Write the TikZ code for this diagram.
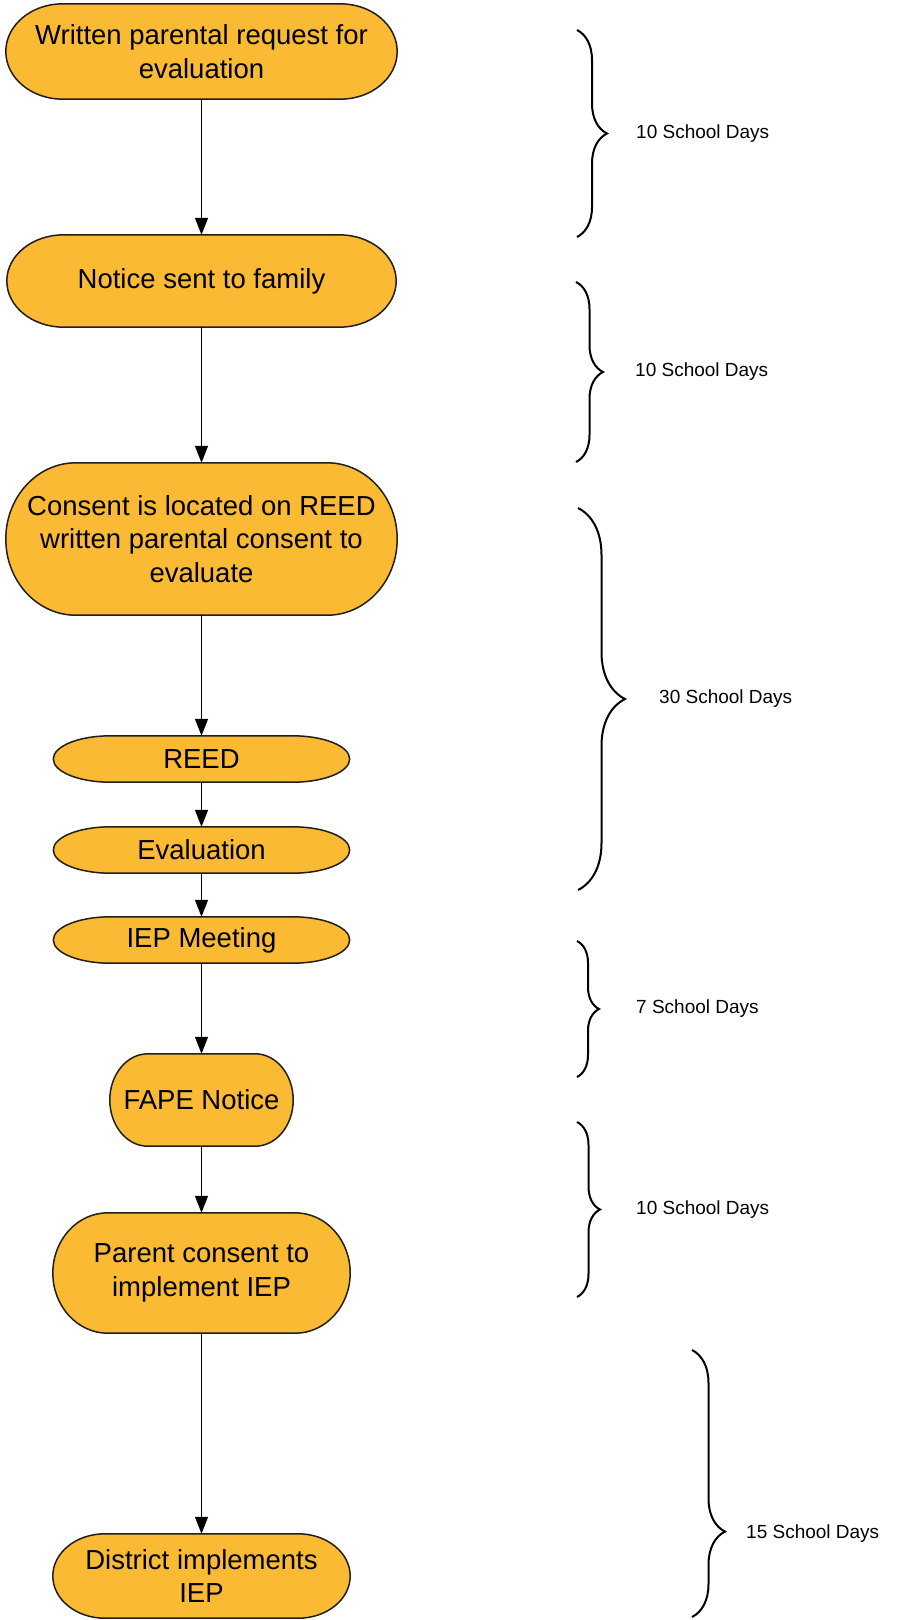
\documentclass[tikz,border=0pt]{standalone}
\usepackage{fontspec}
\setmainfont{Liberation Sans}
\usetikzlibrary{arrows.meta,decorations.pathreplacing,backgrounds,calc}

\definecolor{stepfill}{RGB}{250,186,52}
\definecolor{stepline}{RGB}{34,30,25}

\tikzset{
	stepnode/.style={inner sep=0pt, align=center, font=\fontsize{27.5}{33.5}\selectfont},
	stepshape/.style={fill=stepfill, draw=stepline, line width=1.5pt},
	conn/.style={-{Triangle[width=13pt,length=17pt]}, line width=1.5pt},
	daybrace/.style={decorate, decoration={brace,amplitude=#1}, line width=2pt},
	daylabel/.style={anchor=west, inner sep=0pt, font=\fontsize{19}{23}\selectfont}
}

\begin{document}
\begin{tikzpicture}[x=1pt,y=1pt]

	\useasboundingbox (0,0) rectangle (907,-1620);

	% steps
	\node[stepnode, minimum width=391pt, minimum height=95pt] (req) at (201.5,-51.5) {Written parental request for\\evaluation};
	\node[stepnode, minimum width=389pt, minimum height=92pt] (notice) at (201.5,-281) {Notice sent to family};
	\node[stepnode, minimum width=391pt, minimum height=152pt] (consent) at (201.5,-539) {Consent is located on REED\\written parental consent to\\evaluate};
	\node[stepnode, minimum width=296pt, minimum height=46pt] (reed) at (201.5,-759) {REED};
	\node[stepnode, minimum width=296pt, minimum height=46pt] (eval) at (201.5,-850) {Evaluation};
	\node[stepnode, minimum width=296pt, minimum height=46pt] (iep) at (201.5,-940) {IEP Meeting};
	\node[stepnode, minimum width=183pt, minimum height=92pt] (fape) at (201.5,-1100) {FAPE Notice};
	\node[stepnode, minimum width=297pt, minimum height=120pt] (parent) at (201.5,-1273) {Parent consent to\\implement IEP};
	\node[stepnode, minimum width=297pt, minimum height=84pt] (district) at (201.5,-1576) {District implements\\IEP};

	% outlines with elliptical ends
	\begin{scope}[on background layer]
		\foreach \nd/\rx in {req/57,notice/57,consent/70,reed/57,eval/57,iep/57,fape/38,parent/55,district/52}{
			\path[stepshape] let \p1=(\nd.north), \p2=(\nd.south), \n1={(\y1-\y2)/2} in
				([xshift=\rx pt]\nd.north west) -- ([xshift=-\rx pt]\nd.north east)
				arc[start angle=90, end angle=-90, x radius=\rx pt, y radius=\n1]
				-- ([xshift=\rx pt]\nd.south west)
				arc[start angle=270, end angle=90, x radius=\rx pt, y radius=\n1] -- cycle;
		}
	\end{scope}

	\draw[conn] (req) -- (notice);
	\draw[conn] (notice) -- (consent);
	\draw[conn] (consent) -- (reed);
	\draw[conn] (reed) -- (eval);
	\draw[conn] (eval) -- (iep);
	\draw[conn] (iep) -- (fape);
	\draw[conn] (fape) -- (parent);
	\draw[conn] (parent) -- (district);

	% time spans
	\coordinate (b1t) at (577,-30);
	\coordinate (b1b) at (577,-237);
	\coordinate (b2t) at (576,-282);
	\coordinate (b2b) at (576,-462);
	\coordinate (b3t) at (578,-508);
	\coordinate (b3b) at (578,-890);
	\coordinate (b4t) at (577,-941);
	\coordinate (b4b) at (577,-1077);
	\coordinate (b5t) at (577,-1122);
	\coordinate (b5b) at (577,-1297);
	\coordinate (b6t) at (692,-1350);
	\coordinate (b6b) at (692,-1617);

	\draw[daybrace=30pt] (b1t) -- (b1b);
		\node[daylabel] (days1) at (636,-133.5) {10 School Days};
	\draw[daybrace=27pt] (b2t) -- (b2b);
		\node[daylabel] (days2) at (635,-372) {10 School Days};
	\draw[daybrace=47pt] (b3t) -- (b3b);
		\node[daylabel] (days3) at (659,-699) {30 School Days};
	\draw[daybrace=22pt] (b4t) -- (b4b);
		\node[daylabel] (days4) at (636,-1009) {7 School Days};
	\draw[daybrace=23pt] (b5t) -- (b5b);
		\node[daylabel] (days5) at (636,-1210) {10 School Days};
	\draw[daybrace=33pt, decoration={aspect=0.68}] (b6t) -- (b6b);
		\node[daylabel] (days6) at (746,-1534) {15 School Days};

\end{tikzpicture}
\end{document}
